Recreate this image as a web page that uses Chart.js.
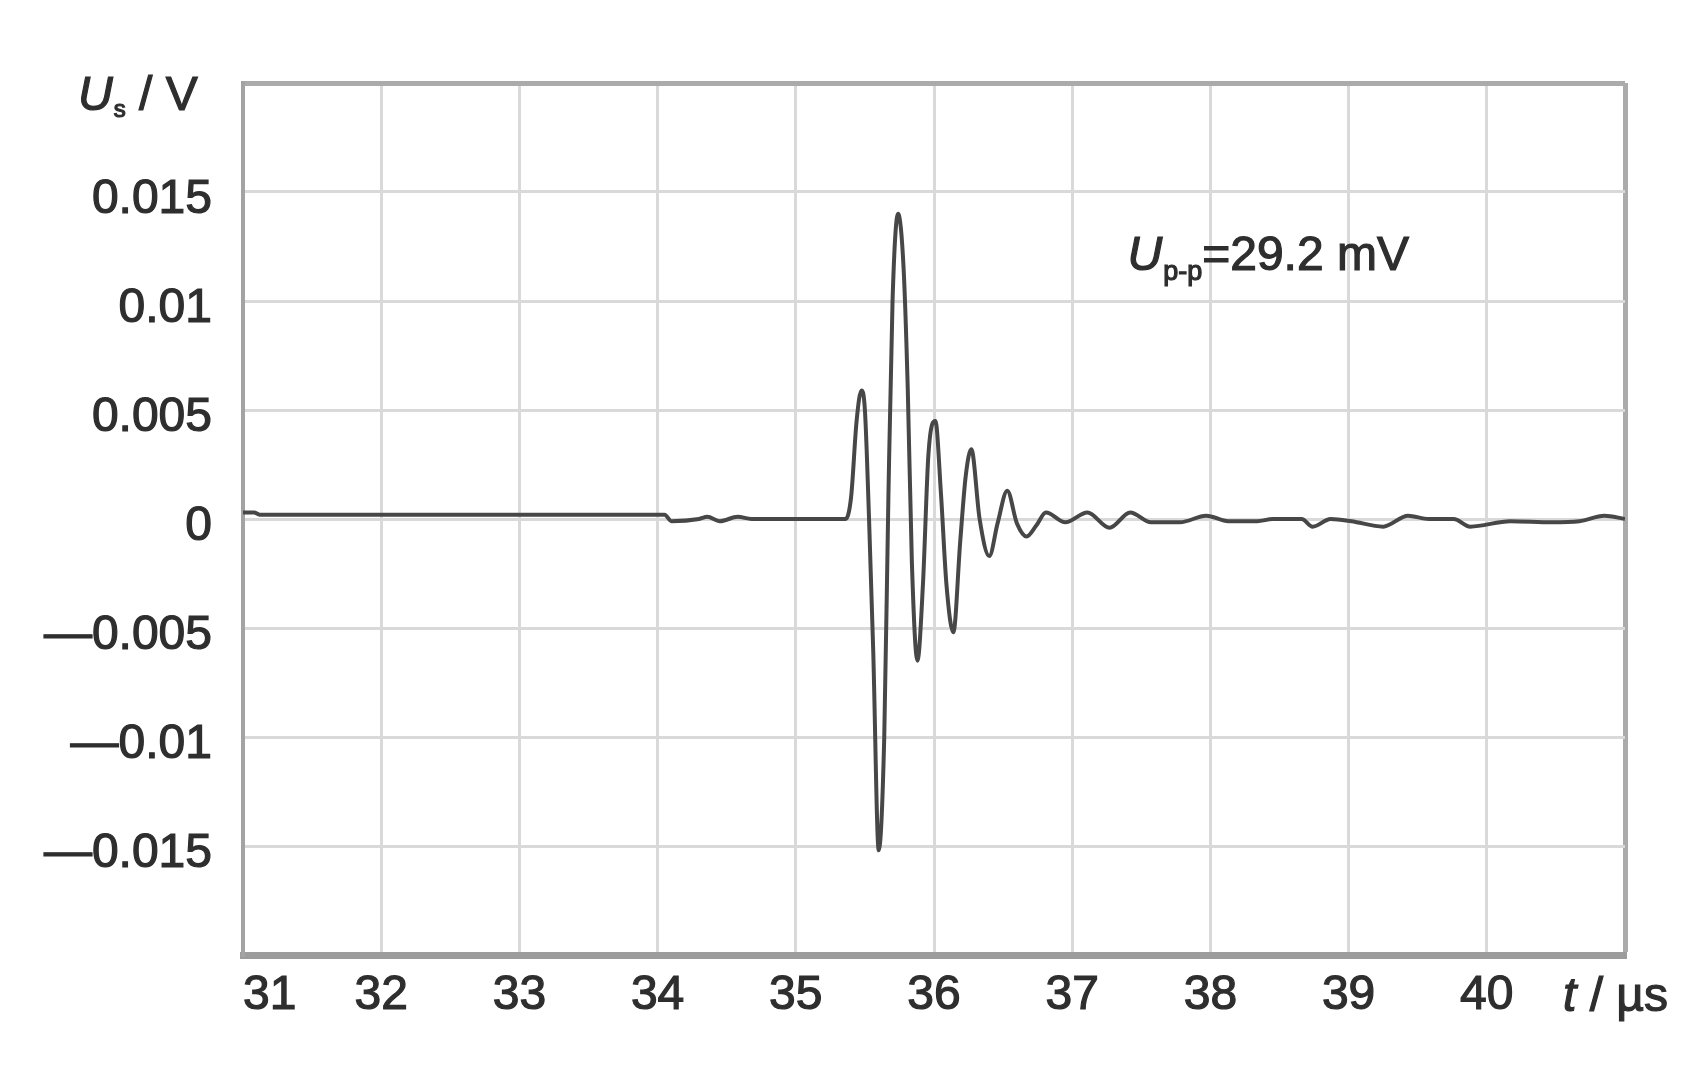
<!DOCTYPE html>
<html>
<head>
<meta charset="utf-8">
<script src="https://cdn.jsdelivr.net/npm/chart.js"></script>
<style>
  html, body { margin: 0; padding: 0; background: #fff; }
  #wrap { width: 1691px; height: 1070px; }
</style>
</head>
<body>
<div id="wrap"><canvas id="chart" width="1691" height="1070"></canvas></div>
<script>
// signal trace
const timeUs = [
  31.00, 31.08, 31.12, 34.05, 34.10, 34.30, 34.36, 34.45, 34.58, 34.68,
  35.36, 35.40, 35.44, 35.475, 35.50, 35.53, 35.56, 35.60, 35.64, 35.67,
  35.70, 35.74, 35.78, 35.81, 35.84, 35.88, 35.92, 35.96, 36.01, 36.05,
  36.09, 36.14, 36.19, 36.23, 36.27, 36.33, 36.40, 36.46, 36.53, 36.60,
  36.67, 36.74, 36.81, 36.95, 37.11, 37.27, 37.42, 37.57, 37.78, 37.97,
  38.13, 38.34, 38.45, 38.66, 38.74, 38.87, 39.02, 39.25, 39.43, 39.58,
  39.76, 39.88, 40.17, 40.47, 40.67, 40.85, 41.00
];
const voltageV = [
  0.0003, 0.0003, 0.0002, 0.0002, -0.0001, 0.0000, 0.0001, -0.0001, 0.0001, 0.0000,
  0.0000, 0.0010, 0.0045, 0.0059, 0.0050, 0.0000, -0.0060, -0.0152, -0.0100, 0.0010,
  0.0100, 0.0140, 0.0115, 0.0060, -0.0020, -0.0065, -0.0030, 0.0030, 0.0045, 0.0012,
  -0.0030, -0.0052, -0.0010, 0.0020, 0.0032, 0.0000, -0.0017, -0.0002, 0.0013, -0.0002,
  -0.0008, -0.0003, 0.0003, -0.00015, 0.0003, -0.0004, 0.0003, -0.00015, -0.00015, 0.00015,
  -0.0001, -0.0001, 0.0000, 0.0000, -0.00035, 0.0000, -0.0001, -0.00035, 0.00015, 0.0000,
  0.0000, -0.00035, -0.0001, -0.00015, -0.0001, 0.00015, 0.0000
];

// axis ranges and label texts
const xRange = [31, 41];
const yRange = [-0.02, 0.02];
const yStep = 0.005;
const yAxisTitle = ['U', 's', ' / V'];
const xAxisTitle = ['t', ' / µs'];
const ppLabel = ['U', 'p-p', '=29.2 mV'];
const ppLabelAt = [37.40, 0.0114];

const FONT = '"Liberation Sans", Arial, Helvetica, sans-serif';
const TEXT = '#2e2e2e';
const STROKE = 1.2;

const points = timeUs.map((t, i) => ({ x: t, y: voltageV[i] }));

// draws the axis titles and the peak-to-peak note
const textPlugin = {
  id: 'texts',
  afterDraw(chart) {
    const ctx = chart.ctx;
    const xs = chart.scales.x, ys = chart.scales.y;
    ctx.save();
    ctx.fillStyle = TEXT;
    ctx.strokeStyle = TEXT;
    ctx.lineWidth = STROKE;
    ctx.textBaseline = 'alphabetic';
    ctx.textAlign = 'left';
    const put = (s, x, y) => { ctx.fillText(s, x, y); ctx.strokeText(s, x, y); };

    // y title: U_s / V
    let x = 78, y = 110;
    ctx.font = 'italic 48px ' + FONT;
    put(yAxisTitle[0], x, y);
    x += ctx.measureText(yAxisTitle[0]).width + 1;
    ctx.font = '24px ' + FONT;
    put(yAxisTitle[1], x, y + 7);
    x += ctx.measureText(yAxisTitle[1]).width;
    ctx.font = '48px ' + FONT;
    put(yAxisTitle[2], x, y);

    // x title: t / µs
    x = 1563; y = 1011;
    ctx.font = 'italic 48px ' + FONT;
    put(xAxisTitle[0], x, y);
    x += ctx.measureText(xAxisTitle[0]).width;
    ctx.font = '48px ' + FONT;
    put(xAxisTitle[1], x, y);

    // U_p-p annotation
    x = xs.getPixelForValue(ppLabelAt[0]);
    y = ys.getPixelForValue(ppLabelAt[1]);
    ctx.font = 'italic 48px ' + FONT;
    put(ppLabel[0], x, y);
    x += ctx.measureText(ppLabel[0]).width + 1;
    ctx.font = '27px ' + FONT;
    put(ppLabel[1], x, y + 10);
    x += ctx.measureText(ppLabel[1]).width;
    ctx.font = '48px ' + FONT;
    put(ppLabel[2], x, y);
    ctx.restore();
  }
};

new Chart(document.getElementById('chart').getContext('2d'), {
  type: 'line',
  data: {
    datasets: [{
      data: points,
      borderColor: '#474747',
      borderWidth: 4,
      pointRadius: 0,
      fill: false,
      cubicInterpolationMode: 'monotone'
    }]
  },
  options: {
    responsive: false,
    animation: false,
    devicePixelRatio: 1,
    layout: { padding: { top: 83, right: 66, left: 0, bottom: 0 } },
    plugins: { legend: { display: false }, tooltip: { enabled: false } },
    scales: {
      x: {
        type: 'linear',
        min: xRange[0],
        max: xRange[1],
        afterFit: s => { s.height = 115; },
        ticks: {
          stepSize: 1,
          autoSkip: false,
          maxRotation: 0,
          align: 'inner',
          padding: 12,
          color: TEXT,
          textStrokeColor: TEXT,
          textStrokeWidth: STROKE,
          font: { family: FONT, size: 48 },
          callback: v => (v === xRange[1] ? '' : String(v))
        },
        grid: {
          drawTicks: false,
          color: c => (c.tick && c.tick.value === xRange[1] ? '#ababab' : '#d9d9d9'),
          lineWidth: c => (c.tick && c.tick.value === xRange[1] ? 5 : 3)
        },
        border: { color: '#9c9c9c', width: 7 }
      },
      y: {
        type: 'linear',
        min: yRange[0],
        max: yRange[1],
        afterFit: s => { s.width = 243; },
        ticks: {
          stepSize: yStep,
          autoSkip: false,
          padding: 31,
          labelOffset: 8,
          color: TEXT,
          textStrokeColor: TEXT,
          textStrokeWidth: STROKE,
          font: { family: FONT, size: 48 },
          callback: v => {
            const r = Math.round(v * 1000) / 1000;
            if (Math.abs(r) >= 0.02) return '';
            return r < 0 ? '—' + String(-r) : String(r);
          }
        },
        grid: {
          drawTicks: false,
          color: c => (c.tick && Math.round(c.tick.value * 1000) === 20 ? '#ababab' : '#d9d9d9'),
          lineWidth: c => (c.tick && Math.round(c.tick.value * 1000) === 20 ? 5 : 3)
        },
        border: { color: '#a3a3a3', width: 4 }
      }
    }
  },
  plugins: [textPlugin]
});
</script>
</body>
</html>
